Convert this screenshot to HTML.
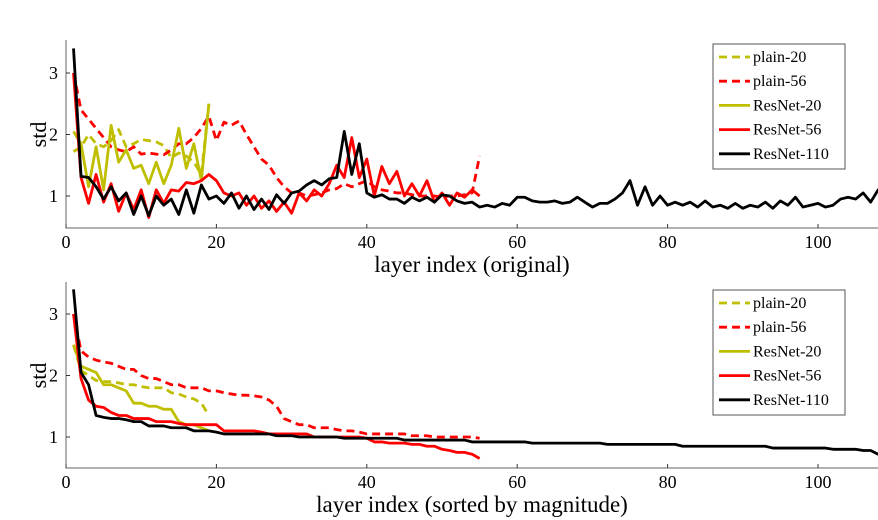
<!DOCTYPE html>
<html><head><meta charset="utf-8"><style>
body{margin:0;background:#fff;width:878px;height:520px;overflow:hidden}
svg{display:block;font-family:"Liberation Serif",serif}
</style></head><body>
<svg id="c" width="878" height="520"></svg>
<script>
const topPlain20=[1.72,1.8,2.0,1.85,1.8,1.9,2.08,1.8,1.85,1.92,1.9,1.88,1.82,1.62,1.7,1.65,1.55,1.35,2.5];
const topRes20=[2.05,1.85,1.15,1.8,1.1,2.15,1.55,1.75,1.45,1.5,1.2,1.55,1.2,1.5,2.1,1.45,1.85,1.25,2.5];
const topPlain56=[3.0,2.4,2.25,2.1,1.95,1.8,1.75,1.72,1.8,1.68,1.7,1.68,1.67,1.75,1.85,1.85,1.95,2.1,2.3,1.9,2.2,2.15,2.22,2.0,1.8,1.6,1.5,1.3,1.15,1.05,1.05,1.0,1.02,1.05,1.1,1.12,1.2,1.15,1.2,1.25,1.15,1.1,1.08,1.05,1.05,1.02,1.0,1.0,1.0,0.98,1.0,1.0,1.02,1.05,1.65];
const topRes56=[3.0,1.3,0.88,1.35,0.9,1.2,0.75,1.05,0.78,1.1,0.65,1.1,0.88,1.1,1.08,1.22,1.2,1.25,1.35,1.25,1.05,1.0,1.05,0.85,1.0,0.8,0.92,0.75,0.9,0.72,1.05,0.92,1.1,1.0,1.2,1.5,1.3,1.95,1.3,1.6,1.0,1.48,1.2,1.4,1.0,1.2,1.0,1.25,0.9,1.05,0.85,1.05,0.98,1.1,1.0];
const topRes110=[3.4,1.32,1.3,1.15,0.95,1.15,0.92,1.05,0.7,1.0,0.68,1.0,0.85,0.95,0.7,1.1,0.72,1.18,0.95,1.0,0.88,1.05,0.8,1.0,0.78,0.95,0.78,1.02,0.88,1.05,1.08,1.18,1.25,1.18,1.28,1.3,2.05,1.35,1.85,1.05,0.98,1.02,0.95,0.95,0.88,0.98,0.92,0.98,0.9,1.02,1.0,0.92,0.88,0.9,0.82,0.85,0.82,0.88,0.85,0.98,0.98,0.92,0.9,0.9,0.92,0.88,0.9,0.98,0.9,0.82,0.88,0.88,0.95,1.05,1.25,0.85,1.15,0.85,1.0,0.85,0.9,0.85,0.9,0.82,0.92,0.82,0.85,0.8,0.88,0.8,0.85,0.82,0.9,0.8,0.92,0.85,0.98,0.82,0.85,0.88,0.82,0.85,0.95,0.98,0.95,1.05,0.9,1.1,0.92,1.05,1.1];
const xTicks=[0,20,40,60,80,100];
const yTicks=[1,2,3];
const seriesNames=["plain-20","plain-56","ResNet-20","ResNet-56","ResNet-110"];

const NS="http://www.w3.org/2000/svg";
const svg=document.getElementById('c');
function mk(t,a,p){const e=document.createElementNS(NS,t);for(const k in a)e.setAttribute(k,a[k]);(p||svg).appendChild(e);return e;}
const styles=[{c:"#bfbf00",d:"8,5"},{c:"#ff0000",d:"8,5"},{c:"#bfbf00",d:""},{c:"#ff0000",d:""},{c:"#000",d:""}];
const sx=v=>66+v*7.52;
function panel(yOne,axisY,topY,data,xlabel,xlabY,legY,name){
  const sy=v=>yOne-(v-1)*61.5;
  const g=mk('g',{});
  
  
  const cp=mk('clipPath',{id:'cp'+name},g);
  mk('rect',{x:66,y:topY-10,width:812,height:axisY-topY+10},cp);
  const ax=mk('path',{d:`M66 ${topY}V${axisY}H878`,stroke:'#666',fill:'none','stroke-width':1},g);
  
  
  xTicks.forEach(t=>{
    mk('line',{x1:sx(t),x2:sx(t),y1:axisY,y2:axisY-4,stroke:'#333'},g);
    const tx=mk('text',{x:sx(t),y:axisY+20,'text-anchor':'middle','font-size':18},g);tx.textContent=t;
    
    
  });
  yTicks.forEach(t=>{
    mk('line',{x1:66,x2:70,y1:sy(t),y2:sy(t),stroke:'#333'},g);
    const tx=mk('text',{x:58,y:sy(t)+6,'text-anchor':'end','font-size':18},g);tx.textContent=t;
    
    
  });
  const yl=mk('text',{transform:`translate(46,${sy(2)}) rotate(-90)`,'text-anchor':'middle','font-size':22},g);yl.textContent='std';
  
  
  const xl=mk('text',{x:472,y:xlabY,'text-anchor':'middle','font-size':23},g);xl.textContent=xlabel;
  
  
  const lg=mk('g',{'clip-path':`url(#cp${name})`},g);
  data.forEach((arr,i)=>{
    const p=mk('polyline',{points:arr.map((v,j)=>sx(j+1)+','+sy(v)).join(' '),fill:'none',stroke:styles[i].c,'stroke-width':2.8,'stroke-dasharray':styles[i].d,'stroke-linejoin':'round'},lg);
    
    
  });
  const lb=mk('g',{},g);
  
  
  mk('rect',{x:713,y:legY,width:132,height:5*24.2+4,fill:'#fff',stroke:'#555','stroke-width':1},lb);
  seriesNames.forEach((n,i)=>{
    const y=legY+13+i*24.2;
    mk('line',{x1:719,x2:750,y1:y,y2:y,stroke:styles[i].c,'stroke-width':2.8,'stroke-dasharray':styles[i].d},lb);
    const t=mk('text',{x:753,y:y+5,'font-size':16},lb);t.textContent=n;
    
    
  });
}
const tops=[topPlain20,topPlain56,topRes20,topRes56,topRes110];
panel(196,228,40,tops,'layer index (original)',272,44,'top-panel');
panel(437,468,282,tops.map(a=>a.slice().sort((p,q)=>q-p)),'layer index (sorted by magnitude)',512,290,'bottom-panel');
const cap=mk('text',{x:0,y:539,'font-size':26});
cap.textContent='Figure 7: Standard deviations (std) of layer responses on CIFAR-10';


</script>
</body></html>
